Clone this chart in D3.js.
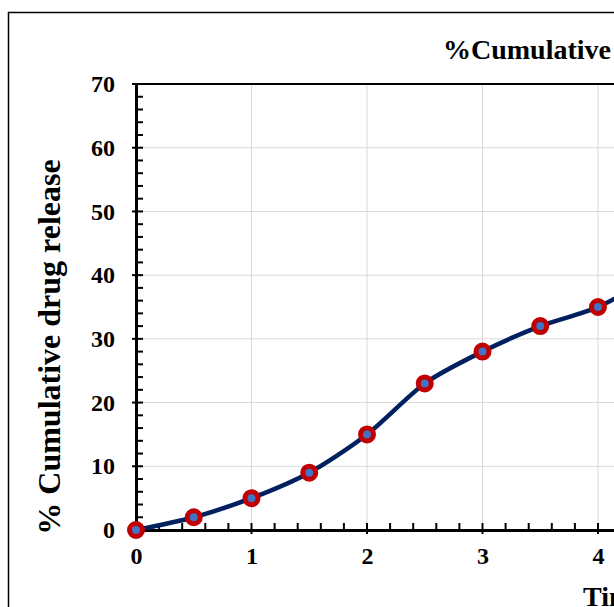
<!DOCTYPE html>
<html>
<head>
<meta charset="utf-8">
<script src="https://cdn.jsdelivr.net/npm/d3@7"></script>
<style>
  body { margin: 0; background: #fff; overflow: hidden; }
  svg { display: block; }
</style>
</head>
<body>
<div id="chart"></div>
<script>
const width = 614;
const height = 607;

const times = [0, 0.5, 1, 1.5, 2, 2.5, 3, 3.5, 4, 4.5];
const release = [0, 2, 5, 9, 15, 23, 28, 32, 35, 40];
const xTicks = [0, 1, 2, 3, 4];
const yTicks = [0, 10, 20, 30, 40, 50, 60, 70];

const font = "'Liberation Serif', 'Times New Roman', serif";

const svg = d3.select("#chart")
    .append("svg")
    .attr("width", width)
    .attr("height", height);

// outer chart frame (runs past the viewport)
svg.append("rect")
    .attr("x", 8.5)
    .attr("y", 12.5)
    .attr("width", 1200)
    .attr("height", 800)
    .attr("fill", "white")
    .attr("stroke", "black")
    .attr("stroke-width", 1.5);

const x = d3.scaleLinear()
    .domain([0, 8])
    .range([136, 136 + 8 * 115.5]);

const y = d3.scaleLinear()
    .domain([0, 70])
    .range([530, 84]);

// gridlines
svg.append("g")
    .selectAll("line")
    .data(d3.range(1, 9))
    .enter().append("line")
    .attr("x1", d => x(d))
    .attr("x2", d => x(d))
    .attr("y1", y(0))
    .attr("y2", y(70))
    .attr("stroke", "#d9d9d9")
    .attr("stroke-width", 1);

svg.append("g")
    .selectAll("line")
    .data(yTicks.slice(1, -1))
    .enter().append("line")
    .attr("x1", x(0))
    .attr("x2", x(8))
    .attr("y1", d => y(d))
    .attr("y2", d => y(d))
    .attr("stroke", "#d9d9d9")
    .attr("stroke-width", 1);

// top border of plot area
svg.append("line")
    .attr("x1", x(0) - 3)
    .attr("x2", x(8))
    .attr("y1", y(70))
    .attr("y2", y(70))
    .attr("stroke", "black")
    .attr("stroke-width", 2);

// minor ticks
const xMinor = d3.range(0, 8.01, 0.2).map(v => +v.toFixed(1));
const yMinor = d3.range(0, 70.01, 2);

svg.append("g")
    .selectAll("line")
    .data(xMinor)
    .enter().append("line")
    .attr("x1", d => x(d))
    .attr("x2", d => x(d))
    .attr("y1", y(0) - 7)
    .attr("y2", d => Number.isInteger(d) ? y(0) + 4 : y(0))
    .attr("stroke", "black")
    .attr("stroke-width", 2);

svg.append("g")
    .selectAll("line")
    .data(yMinor)
    .enter().append("line")
    .attr("x1", d => d % 10 === 0 ? x(0) - 4 : x(0))
    .attr("x2", x(0) + 7)
    .attr("y1", d => y(d))
    .attr("y2", d => y(d))
    .attr("stroke", "black")
    .attr("stroke-width", 2);

// axes
const xAxis = svg.append("g")
    .attr("transform", `translate(0, ${y(0)})`)
    .call(d3.axisBottom(x).tickValues(xTicks).tickSize(0).tickPadding(17));

const yAxis = svg.append("g")
    .attr("transform", `translate(${x(0)}, 0)`)
    .call(d3.axisLeft(y).tickValues(yTicks).tickSize(0).tickPadding(21));

[xAxis, yAxis].forEach(g => {
    g.select(".domain").attr("stroke", "black").attr("stroke-width", 3);
    g.selectAll("text")
        .attr("font-family", font)
        .attr("font-weight", "bold")
        .attr("font-size", "24px")
        .attr("fill", "black");
});

// series
const pts = times.map((t, i) => ({ t: t, v: release[i] }));

svg.append("path")
    .datum(pts)
    .attr("fill", "none")
    .attr("stroke", "#002060")
    .attr("stroke-width", 4.5)
    .attr("d", d3.line()
        .x(d => x(d.t))
        .y(d => y(d.v))
        .curve(d3.curveCardinal.tension(0.2)));

svg.selectAll(".dot")
    .data(pts)
    .enter().append("circle")
    .attr("class", "dot")
    .attr("cx", d => x(d.t))
    .attr("cy", d => y(d.v))
    .attr("r", 6.5)
    .attr("fill", "#4472c4")
    .attr("stroke", "#c00000")
    .attr("stroke-width", 5);

// titles
svg.append("text")
    .attr("x", 443)
    .attr("y", 59)
    .attr("font-family", font)
    .attr("font-weight", "bold")
    .attr("font-size", "28px")
    .attr("fill", "black")
    .text("%Cumulative drug release");

svg.append("text")
    .attr("transform", `translate(60, 347) rotate(-90)`)
    .attr("text-anchor", "middle")
    .attr("font-family", font)
    .attr("font-weight", "bold")
    .attr("font-size", "32px")
    .attr("fill", "black")
    .text("% Cumulative drug release");

svg.append("text")
    .attr("x", 583)
    .attr("y", 606)
    .attr("font-family", font)
    .attr("font-weight", "bold")
    .attr("font-size", "28px")
    .attr("fill", "black")
    .text("Time (h)");
</script>
</body>
</html>
